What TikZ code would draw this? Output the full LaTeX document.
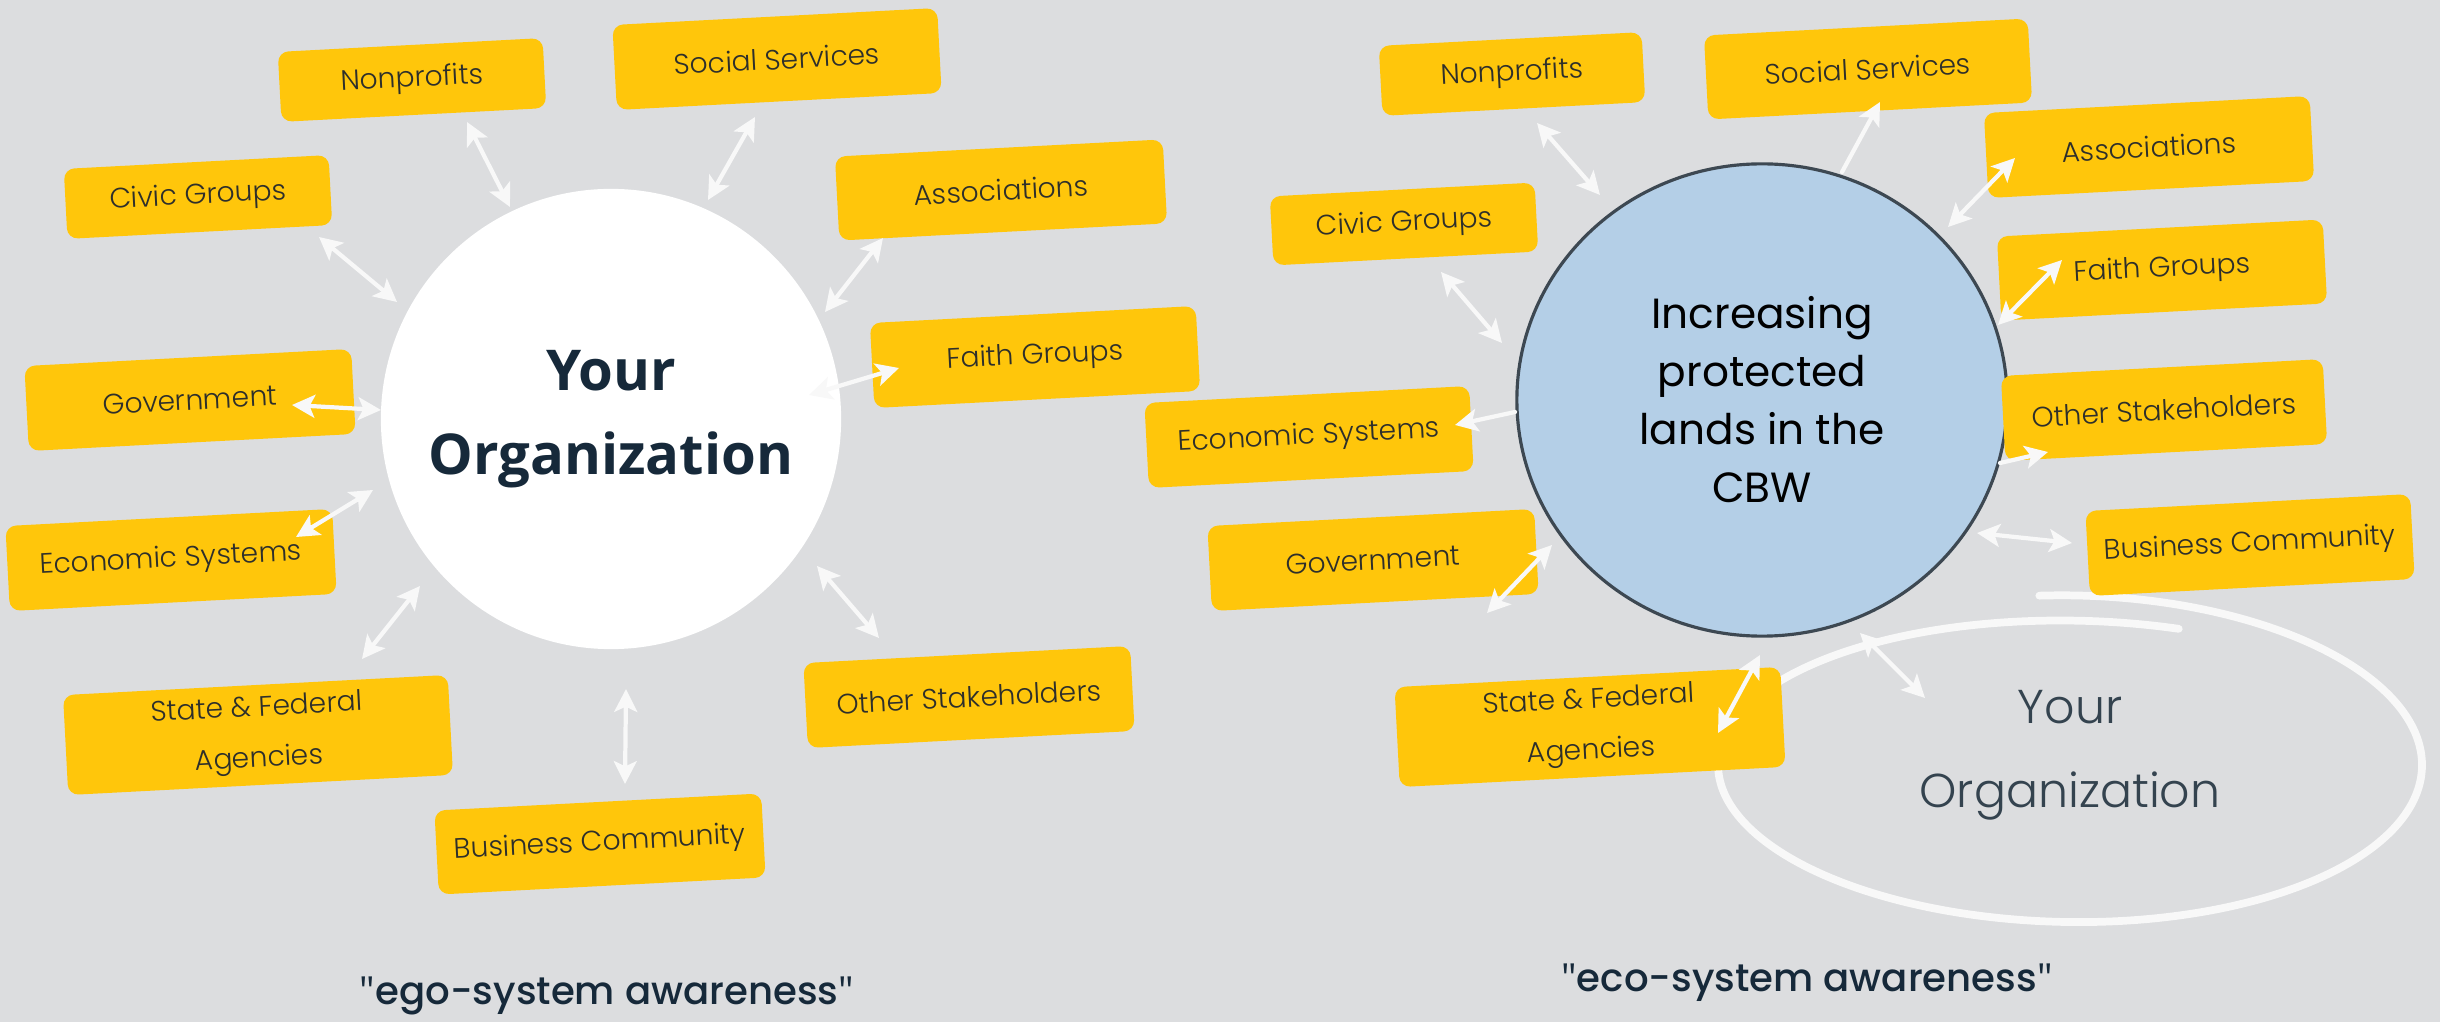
\documentclass[tikz,border=0pt]{standalone}
\usepackage{fontspec}
\setmainfont{Poppins}
\newfontfamily\lightfont{Poppins}[UprightFont=* Light]
\newfontfamily\mediumfont{Poppins}[UprightFont=* Medium]
\newfontfamily\headfont{Open Sans}
\usetikzlibrary{arrows.meta,calc,shapes.geometric}

\begin{document}
\begin{tikzpicture}[x=0.01cm,y=-0.01cm,
    tag/.style={fill=kYellow,rotate=3,rounded corners=3pt,inner sep=0pt,
      align=center,text=kInk,font=\lightfont\fontsize{8}{14.5}\selectfont},
    link/.style={draw=kArrow,line width=1.2pt,line cap=round,
      {Stealth[length=6.5pt,width=6.5pt,inset=1.5pt]}-{Stealth[length=6.5pt,width=6.5pt,inset=1.5pt]}},
    oneway/.style={link,-{Stealth[length=6.5pt,width=6.5pt,inset=1.5pt]}},
    caption/.style={text=kNavy,font=\mediumfont\fontsize{11}{14}\selectfont}]
  \definecolor{kBack}{HTML}{DCDDDF}
  \definecolor{kYellow}{HTML}{FFC60B}
  \definecolor{kInk}{HTML}{2E2F2B}
  \definecolor{kNavy}{HTML}{16293A}
  \definecolor{kBlue}{HTML}{B4CFE7}
  \definecolor{kEdge}{HTML}{3D4852}
  \definecolor{kSlate}{HTML}{34434F}
  \definecolor{kArrow}{HTML}{F8F8F8}

  \fill[kBack] (0,0) rectangle (2440,1022);
  \useasboundingbox (0,0) rectangle (2440,1022);

  % hand drawn ring round the own organization
  \draw[kArrow,line width=2.2pt,line cap=round]
    plot[domain=95:-288,samples=120,smooth]
    ({2070+352*cos(\x)},{765-(170-(95-\x)*0.07)*sin(\x)});

  \node[circle,fill=white,minimum size=4.6cm,inner sep=0pt,align=center,
    text=kNavy,font=\headfont\bfseries\fontsize{16}{24}\selectfont]
    (org1) at (611,419) {Your\\Organization};
  \node[ellipse,fill=kBlue,draw=kEdge,line width=0.9pt,minimum width=4.9cm,
    minimum height=4.72cm,inner sep=0pt,align=center,text=black,
    font=\fontsize{12}{16.5}\selectfont]
    (org2) at (1762,400) {Increasing\\protected\\lands in the\\CBW};

  % ego-system
  \foreach \id/\x/\y/\w/\h/\txt in {
      np1/412/80/2.65/0.70/Nonprofits,
      ss1/777/59/3.25/0.85/Social Services,
      cg1/198/197/2.65/0.70/Civic Groups,
      as1/1001/190/3.28/0.84/Associations,
      fg1/1035/357/3.26/0.85/Faith Groups,
      gv1/190/400/3.27/0.85/Government,
      ec1/171/560/3.27/0.85/Economic Systems,
      bc1/600/844/3.27/0.84/Business Community,
      os1/969/697/3.27/0.85/Other Stakeholders}
  {
    \node[tag,minimum width=\w cm,minimum height=\h cm] (\id) at (\x,\y) {\txt};
  }
  \node[tag,minimum width=3.85cm,minimum height=1cm] (sf1) at (258,735)
    {State \& Federal\\Agencies};

  % eco-system
  \foreach \id/\x/\y/\w/\h/\txt in {
      np2/1512/74/2.63/0.70/Nonprofits,
      ss2/1868/69/3.24/0.84/Social Services,
      as2/2149/147/3.26/0.85/Associations,
      fg2/2162/270/3.26/0.84/Faith Groups,
      cg2/1404/224/2.65/0.69/Civic Groups,
      ec2/1309/437/3.25/0.85/Economic Systems,
      os2/2164/410/3.22/0.85/Other Stakeholders,
      bc2/2250/545/3.25/0.85/Business Community,
      gv2/1373/560/3.27/0.85/Government}
  {
    \node[tag,minimum width=\w cm,minimum height=\h cm] (\id) at (\x,\y) {\txt};
  }
  \node[tag,minimum width=3.86cm,minimum height=1cm] (sf2) at (1590,727)
    {State \& Federal\\Agencies};

  \node[align=center,text=kSlate,font=\lightfont\fontsize{13.5}{24}\selectfont]
    (yo2) at (2070,755) {Your\\Organization};

  \draw[link] ($(np1)+(55,42)$) -- ($(org1)+(-101,-212)$);
  \draw[link] ($(ss1)+(-22,58)$) -- ($(org1)+(97,-219)$);
  \draw[link] ($(cg1)+(121,40)$) -- ($(org1)+(-214,-117)$);
  \draw[link] ($(as1)+(-118,48)$) -- ($(org1)+(214,-107)$);
  \draw[link] ($(fg1)+(-136,11)$) -- ($(org1)+(198,-24)$);
  \draw[link] ($(gv1)+(102,5)$) -- ($(org1)+(-230,-9)$);
  \draw[link] ($(ec1)+(125,-23)$) -- ($(org1)+(-238,71)$);
  \draw[link] ($(sf1)+(104,-76)$) -- ($(org1)+(-191,167)$);
  \draw[link] ($(bc1)+(25,-60)$) -- ($(org1)+(15,270)$);
  \draw[link] ($(os1)+(-90,-59)$) -- ($(org1)+(206,147)$);

  \draw[link] ($(np2)+(25,49)$) -- ($(org2)+(-162,-205)$);
  \draw[oneway] ($(org2)+(80,-228)$) -- ($(ss2)+(12,33)$);
  \draw[link] ($(as2)+(-134,11)$) -- ($(org2)+(186,-173)$);
  \draw[link] ($(fg2)+(-100,-10)$) -- ($(org2)+(236,-75)$);
  \draw[link] ($(cg2)+(37,48)$) -- ($(org2)+(-260,-57)$);
  \draw[oneway] ($(org2)+(-247,12)$) -- ($(ec2)+(146,-12)$);
  \draw[oneway] ($(org2)+(238,63)$) -- ($(os2)+(-116,42)$);
  \draw[link] ($(bc2)+(-178,-2)$) -- ($(org2)+(215,133)$);
  \draw[link] ($(gv2)+(114,53)$) -- ($(org2)+(-210,145)$);
  \draw[link] ($(sf2)+(128,6)$) -- ($(org2)+(-2,255)$);
  \draw[link] ($(yo2)+(-145,-57)$) -- ($(org2)+(98,233)$);

  \node[caption] (ego) at (607,996) {{\headfont"}ego-system awareness{\headfont"}};
  \node[caption] (eco) at (1807,983) {{\headfont"}eco-system awareness{\headfont"}};
\end{tikzpicture}
\end{document}
